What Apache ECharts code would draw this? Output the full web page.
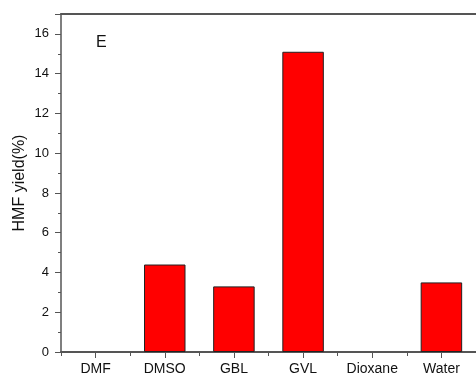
<!DOCTYPE html>
<html><head><meta charset="utf-8">
<script src="https://cdn.jsdelivr.net/npm/echarts@6/dist/echarts.min.js"></script>
<style>html,body{margin:0;padding:0;background:#fff}#c{width:476px;height:378px}</style>
</head><body><div id="c"></div>
<script>
var categories = ['DMF','DMSO','GBL','GVL','Dioxane','Water'];
var yieldValues = [0, 4.4, 3.3, 15.1, 0, 3.5];
var yTicks = [0,2,4,6,8,10,12,14,16];

var chart = echarts.init(document.getElementById('c'), null, {renderer:'canvas'});
var font = 'Liberation Sans, Arial, sans-serif';
var axisColor = '#555';
var barData = yieldValues.map(function(v){
  return v === 0 ? {value:v, itemStyle:{borderWidth:0}} : v;
});
chart.setOption({
  animation:false,
  backgroundColor:'#fff',
  grid:{left:61, right:-3, top:14, bottom:26, containLabel:false},
  xAxis:[{
    type:'category', data:categories, position:'bottom',
    axisLine:{lineStyle:{color:axisColor,width:2}},
    axisTick:{show:true, alignWithLabel:true, length:6, lineStyle:{color:axisColor,width:1}},
    axisLabel:{color:'#111', fontFamily:font, fontSize:14, margin:10}
  },{
    type:'category', data:categories, position:'bottom', gridIndex:0,
    axisLine:{show:false},
    axisTick:{show:true, alignWithLabel:false, length:4, lineStyle:{color:axisColor,width:1}},
    axisLabel:{show:false}
  },{
    type:'category', data:categories, position:'top', gridIndex:0,
    axisLine:{show:true, lineStyle:{color:axisColor,width:2}},
    axisTick:{show:false}, axisLabel:{show:false}
  }],
  yAxis:{
    type:'value', min:0, max:17, interval:2,
    name:'HMF yield(%)', nameLocation:'middle', nameGap:33, nameMoveOverlap:false,
    nameTextStyle:{color:'#111', fontFamily:font, fontSize:16},
    axisLine:{show:true, lineStyle:{color:axisColor,width:1.5}},
    axisTick:{show:true, length:6, lineStyle:{color:axisColor,width:1}},
    minorTick:{show:true, splitNumber:2, length:3, lineStyle:{color:axisColor,width:1}},
    splitLine:{show:false},
    axisLabel:{color:'#111', fontFamily:font, fontSize:13, margin:12,
      formatter:function(v){return yTicks.indexOf(v)>=0 ? String(v) : '';}}
  },
  series:[{
    type:'bar', data:barData, xAxisIndex:0, barWidth:'60%',
    itemStyle:{color:'#ff0000', borderColor:'#222', borderWidth:1}
  }],
  graphic:[{type:'text', left:96, top:35, style:{text:'E', fill:'#111', font:'16px '+font}}]
});
</script></body></html>
